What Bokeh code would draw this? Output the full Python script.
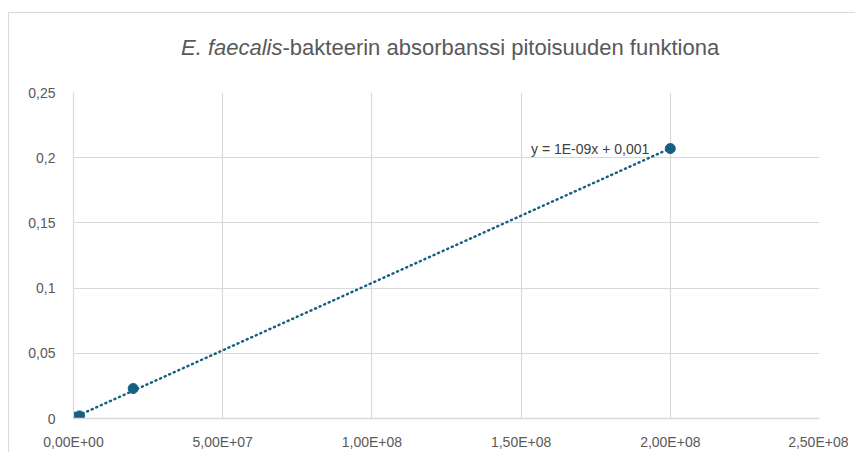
import numpy as np
from bokeh.plotting import figure
from bokeh.layouts import column, row
from bokeh.models import (ColumnDataSource, CustomJSTickFormatter, FixedTicker,
                          Range1d, Label, Div)
from bokeh.embed import file_html
from bokeh.resources import INLINE

# Data
concentration = [2e2, 2e3, 2e4, 2e5, 2e6, 2e7, 2e8]
absorbance = [0.000, 0.000, 0.001, 0.001, 0.002, 0.023, 0.207]
x_ticks = [0, 5e7, 1e8, 1.5e8, 2e8, 2.5e8]
y_ticks = [0, 0.05, 0.1, 0.15, 0.2, 0.25]
title_italic = "E. faecalis"
title_rest = "-bakteerin absorbanssi pitoisuuden funktiona"
equation = "y = 1E-09x + 0,001"

COLOR = "#156082"
GRID = "#d9d9d9"
TXT = "#595959"
FONT = "Liberation Sans"
W = 839
TH = 57
MB_L, MB_R = 64, 29

# ---- title strip (own small svg figure so the text is not clipped)
tp = figure(width=W, height=TH, output_backend="svg", toolbar_location=None,
            x_range=Range1d(73, 819), y_range=Range1d(0, TH),
            min_border_left=MB_L, min_border_right=MB_R,
            min_border_top=0, min_border_bottom=0)
tp.axis.visible = False
tp.grid.visible = False
tp.outline_line_color = None
tp.add_layout(Label(x=282, y=TH - 34, text=title_italic, text_align="right",
                    text_baseline="middle", text_font=FONT,
                    text_font_style="italic", text_font_size="22px",
                    text_color=TXT))
tp.add_layout(Label(x=282, y=TH - 34, text=title_rest, text_align="left",
                    text_baseline="middle", text_font=FONT,
                    text_font_size="22px", text_color=TXT))

# ---- main chart
p = figure(width=W, height=382, output_backend="svg", toolbar_location=None,
           x_range=Range1d(0, 2.5e8), y_range=Range1d(0, 0.25),
           min_border_left=MB_L, min_border_right=MB_R, min_border_top=22,
           min_border_bottom=29)
p.outline_line_color = None
p.border_fill_color = "white"

# trendline (least squares of the data)
slope, icpt = np.polyfit(concentration, absorbance, 1)
tx = [0, max(concentration)]
ty = [icpt + slope * v for v in tx]
p.line(tx, ty, line_color=COLOR, line_width=2.5, line_dash="1 4", line_cap="round")

src = ColumnDataSource(dict(x=concentration, y=absorbance))
p.scatter("x", "y", source=src, size=10, fill_color=COLOR, line_color=COLOR)

p.xaxis.ticker = FixedTicker(ticks=x_ticks)
p.yaxis.ticker = FixedTicker(ticks=y_ticks)
p.xaxis.formatter = CustomJSTickFormatter(code="""
    if (tick == 0) return '0,00E+00';
    const e = Math.floor(Math.log10(Math.abs(tick)) + 1e-9);
    const m = tick / Math.pow(10, e);
    const es = (e < 10 ? '0' : '') + e;
    return m.toFixed(2).replace('.', ',') + 'E+' + es;
""")
p.yaxis.formatter = CustomJSTickFormatter(code="""
    return String(Math.round(tick*100)/100).replace('.', ',');
""")
for ax in (p.xaxis, p.yaxis):
    ax.major_tick_line_color = None
    ax.minor_tick_line_color = None
    ax.major_label_text_font = FONT
    ax.major_label_text_font_size = "14px"
    ax.major_label_text_color = TXT
p.yaxis.axis_line_color = GRID
p.yaxis.axis_line_width = 1.2
p.xaxis.axis_line_color = GRID
p.xaxis.axis_line_width = 1.5
p.xaxis.major_label_standoff = 9
p.yaxis.major_label_standoff = 12
p.xgrid.grid_line_color = GRID
p.ygrid.grid_line_color = GRID
p.xgrid.grid_line_width = 1.2
p.ygrid.grid_line_width = 1.2

p.add_layout(Label(x=max(concentration), y=0.207, text=equation,
                   text_align="right", text_baseline="middle", x_offset=-21,
                   text_font=FONT, text_font_size="14px", text_color="#404040"))

# chart-area border lines (top and left), as in the reference
hline = Div(text="", width=W + 8, height=1, margin=(12, 0, 0, 8),
            styles={"background-color": GRID})
vline = Div(text="", width=1, height=TH + 382, margin=(0, 0, 0, 8),
            styles={"background-color": GRID})

layout = column(hline, row(vline, column(tp, p, spacing=0), spacing=0),
                spacing=0)

open("out.html", "w").write(file_html(layout, INLINE))
